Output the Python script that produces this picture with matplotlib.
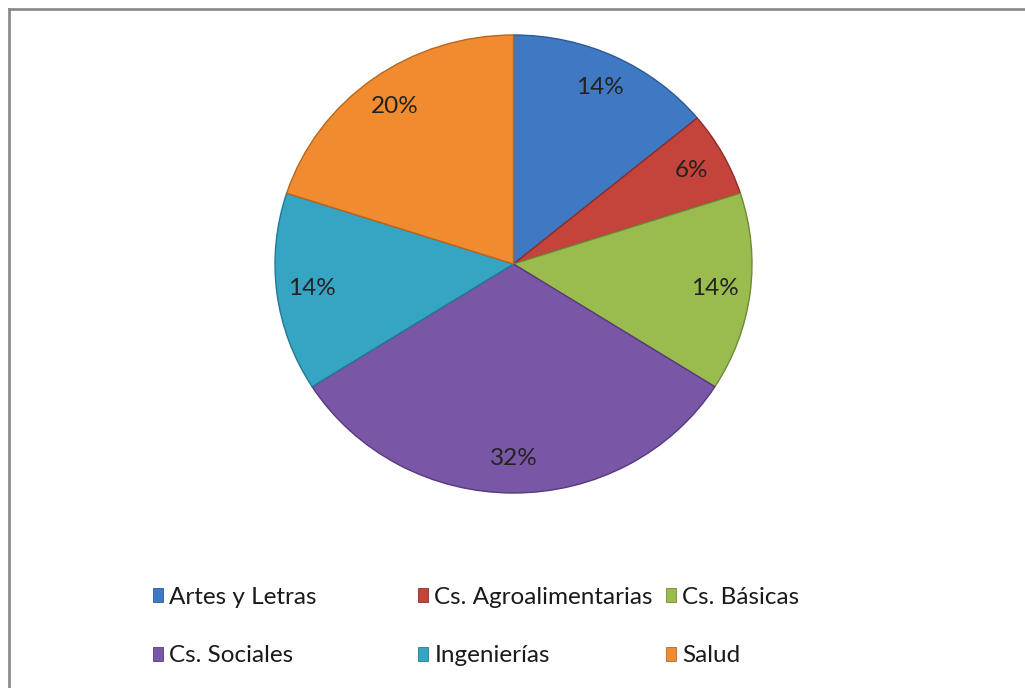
import matplotlib
matplotlib.use("Agg")
import matplotlib.pyplot as plt
from matplotlib.lines import Line2D

categories = ["Artes y Letras", "Cs. Agroalimentarias", "Cs. Básicas",
              "Cs. Sociales", "Ingenierías", "Salud"]
values = [7, 3, 7, 16, 7, 10]
colors = ["#3F78C3", "#C4433B", "#9ABB4E", "#7A57A6", "#36A4C3", "#F08B2F"]
edges = ["#2C5A96", "#8E2C27", "#6F8A36", "#57397D", "#237A93", "#B9661E"]

plt.rcParams['font.family'] = ['Lato', 'DejaVu Sans']

W, H = 1025, 688
fig = plt.figure(figsize=(W / 100, H / 100), dpi=100)
fig.patch.set_facecolor("white")

# pie area in pixels
x0, x1, y0, y1 = 275, 752, 35, 493
ax = fig.add_axes([x0 / W, 1 - y1 / H, (x1 - x0) / W, (y1 - y0) / H])
wedges, texts, autotexts = ax.pie(
    values, colors=colors, startangle=90, counterclock=False,
    autopct=lambda p: f"{p:.0f}%", pctdistance=0.85,
    wedgeprops=dict(linewidth=1.0),
    textprops=dict(fontsize=17.5, color="#222222"))
for w, e in zip(wedges, edges):
    w.set_edgecolor(e)
ax.set_aspect("auto")
ax.set_xlim(-1, 1)
ax.set_ylim(-1, 1)
ax.axis("off")

# legend (Excel-like layout)
col_x = [153, 418, 666]
row_y = [597, 656]
for i, (lab, c, e) in enumerate(zip(categories, colors, edges)):
    r, col = divmod(i, 3)
    h = plt.Rectangle((0, 0), 1, 1, facecolor=c, edgecolor=e, linewidth=0.6)
    fig.legend(handles=[h], labels=[lab], loc="center left",
               bbox_to_anchor=(col_x[col] / W, 1 - row_y[r] / H),
               frameon=False, borderpad=0, borderaxespad=0,
               handlelength=0.42, handleheight=0.5, handletextpad=0.25,
               fontsize=17.5, labelcolor="#1a1a1a")

# chart-area border (top and left visible)
fig.add_artist(Line2D([9 / W, 9 / W], [0, 1 - 9 / H], transform=fig.transFigure,
                      color="#878787", linewidth=1.9))
fig.add_artist(Line2D([9 / W, 1], [1 - 9 / H, 1 - 9 / H], transform=fig.transFigure,
                      color="#878787", linewidth=1.9))

fig.savefig("out.png", dpi=100, facecolor="white")
